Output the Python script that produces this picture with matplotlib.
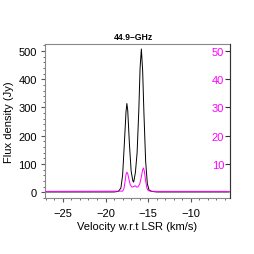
import matplotlib
matplotlib.use("Agg")
import matplotlib.pyplot as plt
from matplotlib.ticker import MultipleLocator

plt.rcParams['font.family'] = ['Liberation Sans', 'DejaVu Sans']

# Spectrum (velocity in km/s)
vel_black = [-27.0, -19.0, -18.5, -18.2, -18.0, -17.8, -17.6, -17.5, -17.4, -17.2,
             -17.0, -16.8, -16.7, -16.5, -16.3, -16.1, -15.95, -15.8, -15.65, -15.5,
             -15.3, -15.1, -14.9, -14.6, -14.0, -5.5]
flux_black = [1, 1, 3, 15, 60, 170, 285, 314, 290, 170,
              75, 40, 36, 70, 140, 290, 440, 507, 430, 280,
              110, 30, 8, 3, 1, 1]

vel_pink = [-27.0, -18.0, -17.85, -17.7, -17.6, -17.5, -17.4, -17.25, -17.1, -16.9,
            -16.7, -16.5, -16.35, -16.2, -16.0, -15.8, -15.65, -15.55, -15.45, -15.3,
            -15.15, -15.0, -14.8, -14.0, -5.5]
flux_pink = [0.3, 0.4, 1.2, 4.0, 6.3, 7.1, 6.6, 4.5, 2.6, 1.8,
             2.0, 2.3, 1.8, 1.9, 2.8, 5.5, 8.0, 8.6, 7.4, 4.0,
             1.5, 0.6, 0.4, 0.3, 0.3]

fig = plt.figure(figsize=(2.55, 2.55), dpi=100)
ax = fig.add_axes([0.1765, 0.22, 0.724, 0.6039])
ax.plot(vel_black, flux_black, color="black", lw=0.7)
ax.set_xlim(-27.1, -5.45)
ax.set_ylim(-20, 525)
ax.xaxis.set_major_locator(MultipleLocator(5))
ax.xaxis.set_minor_locator(MultipleLocator(1))
ax.yaxis.set_major_locator(MultipleLocator(100))
ax.yaxis.set_minor_locator(MultipleLocator(20))
ax.tick_params(which="both", direction="out", color="#555555", labelsize=8, pad=2.5)
ax.tick_params(axis="x", which="both", pad=4)
ax.tick_params(which="major", length=3.2)
ax.tick_params(which="minor", length=1.6)
for s in ax.spines.values():
    s.set_color("#888888")
    s.set_linewidth(0.8)
ax.set_xlabel("Velocity w.r.t LSR (km/s)", fontsize=8, labelpad=2.5)
ax.set_ylabel("Flux density (Jy)", fontsize=8, labelpad=3.5)
ax.set_title("44.9\u2013GHz", fontsize=6.2, fontweight="bold", pad=3.5, x=0.477)

ax2 = ax.twinx()
ax2.plot(vel_pink, flux_pink, color="#ff00ff", lw=0.7)
ax2.set_ylim(-2.0, 52.5)
ax2.set_yticks([10, 20, 30, 40, 50])
ax2.tick_params(axis="y", direction="in", length=3.6, labelsize=8,
                labelcolor="#ff00ff", color="#333333", pad=-4)
for lab in ax2.get_yticklabels():
    lab.set_horizontalalignment("right")
for s in ax2.spines.values():
    s.set_visible(False)
ax2.spines["right"].set_visible(True)
ax2.spines["right"].set_color("#333333")
ax2.spines["right"].set_linewidth(0.8)

fig.savefig("out.png", dpi=100)
